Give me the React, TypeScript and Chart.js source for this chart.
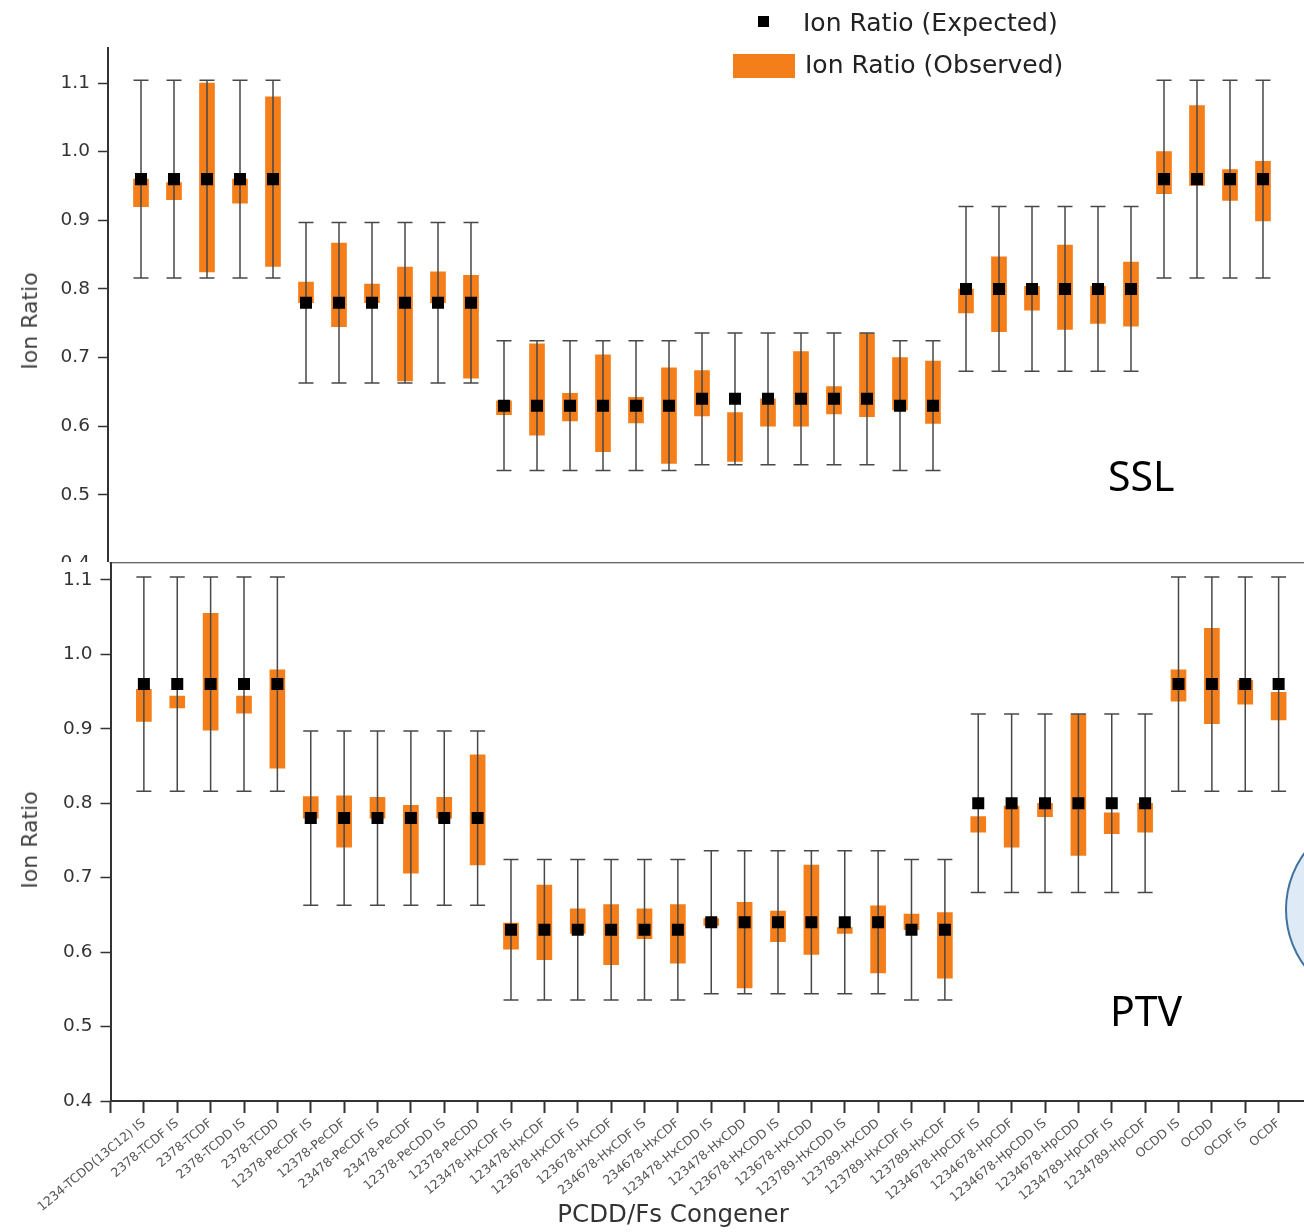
import React, { useEffect, useRef } from 'react';
import { Chart, registerables } from 'chart.js';

Chart.register(...registerables);

// ---------------- data ----------------
const congeners = [
  '1234-TCDD(13C12) IS', '2378-TCDF IS', '2378-TCDF', '2378-TCDD IS', '2378-TCDD',
  '12378-PeCDF IS', '12378-PeCDF', '23478-PeCDF IS', '23478-PeCDF', '12378-PeCDD IS', '12378-PeCDD',
  '123478-HxCDF IS', '123478-HxCDF', '123678-HxCDF IS', '123678-HxCDF', '234678-HxCDF IS', '234678-HxCDF',
  '123478-HxCDD IS', '123478-HxCDD', '123678-HxCDD IS', '123678-HxCDD', '123789-HxCDD IS', '123789-HxCDD',
  '123789-HxCDF IS', '123789-HxCDF',
  '1234678-HpCDF IS', '1234678-HpCDF', '1234678-HpCDD IS', '1234678-HpCDD', '1234789-HpCDF IS', '1234789-HpCDF',
  'OCDD IS', 'OCDD', 'OCDF IS', 'OCDF',
];

const expected = [
  0.96, 0.96, 0.96, 0.96, 0.96,
  0.78, 0.78, 0.78, 0.78, 0.78, 0.78,
  0.63, 0.63, 0.63, 0.63, 0.63, 0.63,
  0.64, 0.64, 0.64, 0.64, 0.64, 0.64,
  0.63, 0.63,
  0.80, 0.80, 0.80, 0.80, 0.80, 0.80,
  0.96, 0.96, 0.96, 0.96,
];

const limitHigh = [
  1.104, 1.104, 1.104, 1.104, 1.104,
  0.897, 0.897, 0.897, 0.897, 0.897, 0.897,
  0.7245, 0.7245, 0.7245, 0.7245, 0.7245, 0.7245,
  0.736, 0.736, 0.736, 0.736, 0.736, 0.736,
  0.7245, 0.7245,
  0.92, 0.92, 0.92, 0.92, 0.92, 0.92,
  1.104, 1.104, 1.104, 1.104,
];

const limitLow = [
  0.816, 0.816, 0.816, 0.816, 0.816,
  0.663, 0.663, 0.663, 0.663, 0.663, 0.663,
  0.5355, 0.5355, 0.5355, 0.5355, 0.5355, 0.5355,
  0.544, 0.544, 0.544, 0.544, 0.544, 0.544,
  0.5355, 0.5355,
  0.68, 0.68, 0.68, 0.68, 0.68, 0.68,
  0.816, 0.816, 0.816, 0.816,
];

// SSL observed ion ratio range
const sslLow = [
  0.92, 0.93, 0.825, 0.925, 0.833,
  0.78, 0.745, 0.78, 0.666, 0.78, 0.67,
  0.617, 0.587, 0.608, 0.563, 0.605, 0.546,
  0.615, 0.549, 0.60, 0.60, 0.618, 0.614,
  0.624, 0.604,
  0.765, 0.738, 0.769, 0.741, 0.75, 0.746,
  0.939, 0.951, 0.929, 0.899,
];
const sslHigh = [
  0.96, 0.955, 1.10, 0.96, 1.08,
  0.81, 0.867, 0.807, 0.832, 0.825, 0.82,
  0.637, 0.72, 0.648, 0.704, 0.642, 0.685,
  0.681, 0.62, 0.64, 0.709, 0.658, 0.735,
  0.70, 0.695,
  0.80, 0.847, 0.804, 0.864, 0.804, 0.839,
  1.0, 1.067, 0.974, 0.986,
];

// PTV observed ion ratio range
const ptvLow = [
  0.91, 0.928, 0.898, 0.921, 0.847,
  0.78, 0.741, 0.78, 0.706, 0.78, 0.717,
  0.604, 0.59, 0.625, 0.583, 0.618, 0.585,
  0.636, 0.552, 0.614, 0.597, 0.625, 0.572,
  0.63, 0.565,
  0.761, 0.741, 0.782, 0.73, 0.759, 0.761,
  0.937, 0.907, 0.933, 0.912,
];
const ptvHigh = [
  0.953, 0.944, 1.055, 0.944, 0.979,
  0.809, 0.81, 0.808, 0.797, 0.808, 0.865,
  0.639, 0.69, 0.658, 0.664, 0.658, 0.664,
  0.645, 0.667, 0.655, 0.717, 0.633, 0.662,
  0.651, 0.653,
  0.782, 0.796, 0.80, 0.919, 0.787, 0.80,
  0.979, 1.035, 0.965, 0.949,
];

const yTickValues = [0.4, 0.5, 0.6, 0.7, 0.8, 0.9, 1.0, 1.1];

// ---------------- styles ----------------
const ORANGE = '#F47E1A';
const FONT = 'DejaVu Sans';
const AXIS = '#333333';

const whiskerPlugin = {
  id: 'whiskers',
  afterDatasetDraw(chart: any, args: any) {
    if (args.index !== 1) return;
    const { ctx } = chart;
    const x = chart.scales.x;
    const y = chart.scales.y;
    ctx.save();
    ctx.strokeStyle = '#484848';
    ctx.lineWidth = 1.5;
    const cap = 7.5;
    for (let i = 0; i < expected.length; i++) {
      const px = x.getPixelForValue(i + 1);
      const top = y.getPixelForValue(limitHigh[i]);
      const bot = y.getPixelForValue(limitLow[i]);
      ctx.beginPath();
      ctx.moveTo(px, top);
      ctx.lineTo(px, bot);
      ctx.moveTo(px - cap, top);
      ctx.lineTo(px + cap, top);
      ctx.moveTo(px - cap, bot);
      ctx.lineTo(px + cap, bot);
      ctx.stroke();
    }
    ctx.restore();
  },
};

const framePlugin = {
  id: 'topFrame',
  afterDraw(chart: any, _args: any, opts: any) {
    if (!opts || !opts.show) return;
    const { ctx, chartArea } = chart;
    ctx.save();
    ctx.strokeStyle = AXIS;
    ctx.lineWidth = 1.2;
    ctx.beginPath();
    ctx.moveTo(chartArea.left - 1, chartArea.top);
    ctx.lineTo(chart.width, chartArea.top);
    ctx.stroke();
    ctx.restore();
  },
};

type PanelProps = {
  low: number[];
  high: number[];
  width: number;
  height: number;
  top: number;
  padTop: number;
  padBottom: number;
  padRight: number;
  yWidth: number;
  yMax: number;
  xMax: number;
  showX: boolean;
  xHeight: number;
  frame: boolean;
};

function Panel(p: PanelProps) {
  const ref = useRef<HTMLCanvasElement | null>(null);
  useEffect(() => {
    if (!ref.current) return;
    const chart = new Chart(ref.current, {
      type: 'bar',
      data: {
        datasets: [
          {
            type: 'scatter',
            label: 'Ion Ratio (Expected)',
            data: expected.map((v, i) => ({ x: i + 1, y: v })),
            pointStyle: 'rect',
            pointRadius: 8.5,
            pointHoverRadius: 8.5,
            backgroundColor: '#000000',
            borderColor: '#000000',
            borderWidth: 0,
          } as any,
          {
            type: 'bar',
            label: 'Ion Ratio (Observed)',
            data: p.low.map((v, i) => ({ x: i + 1, y: [v, p.high[i]] })),
            backgroundColor: ORANGE,
            borderWidth: 0,
            barThickness: 15,
          } as any,
        ],
      },
      options: {
        responsive: false,
        animation: false,
        devicePixelRatio: 1,
        events: [],
        layout: {
          autoPadding: false,
          padding: { top: p.padTop, bottom: p.padBottom, left: 0, right: p.padRight },
        },
        plugins: {
          legend: { display: false },
          tooltip: { enabled: false },
          topFrame: { show: p.frame },
        } as any,
        scales: {
          x: {
            type: 'linear',
            min: 0,
            max: p.xMax,
            offset: false,
            display: p.showX,
            afterBuildTicks: (s: any) => {
              s.ticks = Array.from({ length: 36 }, (_, i) => ({ value: i }));
            },
            afterFit: (s: any) => {
              s.height = p.xHeight;
            },
            ticks: {
              autoSkip: false,
              minRotation: 40,
              maxRotation: 40,
              padding: 3,
              color: '#555555',
              font: { family: FONT, size: 12.5 },
              callback: (v: any) => {
                const n = Number(v);
                return n >= 1 && n <= congeners.length ? congeners[n - 1] : '';
              },
            },
            grid: {
              offset: false,
              drawOnChartArea: false,
              drawTicks: true,
              tickLength: 12,
              tickWidth: 2,
              tickColor: AXIS,
            },
            border: { display: true, color: AXIS, width: 2 },
          },
          y: {
            type: 'linear',
            min: 0.4,
            max: p.yMax,
            afterBuildTicks: (s: any) => {
              s.ticks = yTickValues.map((v) => ({ value: v }));
            },
            afterFit: (s: any) => {
              s.width = p.yWidth;
            },
            ticks: {
              padding: 8,
              color: '#333333',
              font: { family: FONT, size: 18.5 },
              callback: (v: any) => Number(v).toFixed(1),
            },
            grid: {
              drawOnChartArea: false,
              drawTicks: true,
              tickLength: 10,
              tickWidth: 1.5,
              tickColor: AXIS,
            },
            border: { display: true, color: AXIS, width: 2 },
          },
        },
      } as any,
      plugins: [whiskerPlugin, framePlugin],
    });
    return () => chart.destroy();
  }, []);
  return (
    <canvas
      ref={ref}
      width={p.width}
      height={p.height}
      style={{ position: 'absolute', left: 0, top: p.top, width: p.width, height: p.height }}
    />
  );
}

const textBase: React.CSSProperties = {
  position: 'absolute',
  whiteSpace: 'nowrap',
  margin: 0,
};

export default function App() {
  return (
    <div
      style={{
        position: 'absolute',
        left: 0,
        top: 0,
        width: 1304,
        height: 1232,
        overflow: 'hidden',
        background: '#ffffff',
      }}
    >
      {/* SSL panel (top) */}
      <div style={{ position: 'absolute', left: 0, top: 0, width: 1304, height: 562, overflow: 'hidden' }}>
        <Panel
          low={sslLow}
          high={sslHigh}
          width={1340}
          height={600}
          top={0}
          padTop={48}
          padBottom={36.4}
          padRight={11}
          yWidth={108}
          yMax={1.151}
          xMax={37}
          showX={false}
          xHeight={0}
          frame={false}
        />
      </div>
      {/* PTV panel (bottom) */}
      <Panel
        low={ptvLow}
        high={ptvHigh}
        width={1340}
        height={692}
        top={540}
        padTop={22.75}
        padBottom={0}
        padRight={28}
        yWidth={110.5}
        yMax={1.123}
        xMax={36}
        showX={true}
        xHeight={131}
        frame={true}
      />

      {/* axis titles */}
      <div
        style={{
          ...textBase,
          left: 30,
          top: 321,
          transform: 'translate(-50%, -50%) rotate(-90deg)',
          fontFamily: FONT,
          fontSize: 22,
          lineHeight: '22px',
          color: '#444',
        }}
      >
        Ion Ratio
      </div>
      <div
        style={{
          ...textBase,
          left: 30,
          top: 840,
          transform: 'translate(-50%, -50%) rotate(-90deg)',
          fontFamily: FONT,
          fontSize: 22,
          lineHeight: '22px',
          color: '#444',
        }}
      >
        Ion Ratio
      </div>
      <div
        style={{
          ...textBase,
          left: 673,
          top: 1202,
          transform: 'translateX(-50%)',
          fontFamily: FONT,
          fontSize: 24.5,
          lineHeight: '24.5px',
          color: '#333',
        }}
      >
        PCDD/Fs Congener
      </div>

      {/* legend */}
      <div style={{ position: 'absolute', left: 758, top: 16, width: 11, height: 11, background: '#000' }} />
      <div
        style={{ ...textBase, left: 803, top: 10, fontFamily: FONT, fontSize: 25, lineHeight: '25px', color: '#222' }}
      >
        Ion Ratio (Expected)
      </div>
      <div style={{ position: 'absolute', left: 733, top: 54, width: 62, height: 24, background: ORANGE }} />
      <div
        style={{ ...textBase, left: 805, top: 52, fontFamily: FONT, fontSize: 25, lineHeight: '25px', color: '#222' }}
      >
        Ion Ratio (Observed)
      </div>

      {/* panel tags */}
      <div
        style={{ ...textBase, left: 1108, top: 455, fontFamily: 'Noto Sans', fontSize: 41, lineHeight: '41px', color: '#000' }}
      >
        SSL
      </div>
      <div
        style={{ ...textBase, left: 1110, top: 990, fontFamily: 'Noto Sans', fontSize: 41, lineHeight: '41px', color: '#000' }}
      >
        PTV
      </div>

      {/* partially visible callout circle on the right edge */}
      <div
        style={{
          position: 'absolute',
          left: 1285,
          top: 813,
          width: 193,
          height: 193,
          borderRadius: '50%',
          boxSizing: 'border-box',
          border: '2.5px solid #41719C',
          background: '#DEEBF7',
        }}
      />
    </div>
  );
}
